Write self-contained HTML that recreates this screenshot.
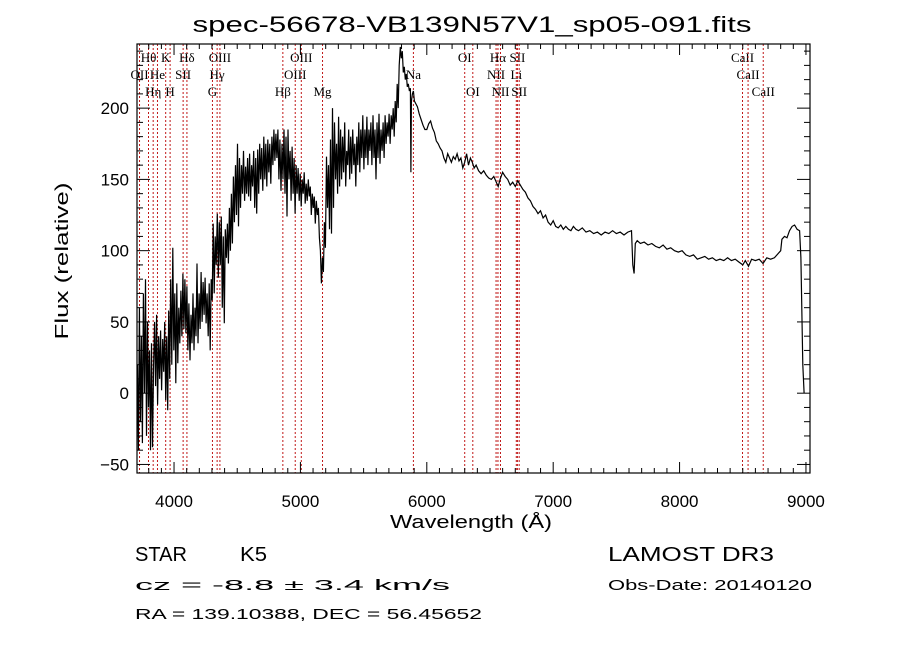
<!DOCTYPE html>
<html><head><meta charset="utf-8"><style>
html,body{margin:0;padding:0;background:#fff;}
svg{display:block;font-family:"Liberation Sans",sans-serif;}
</style></head><body>
<svg id="chart" width="900" height="649" viewBox="0 0 900 649" xmlns="http://www.w3.org/2000/svg">
<rect width="900" height="649" fill="#fff"/>
<text x="472" y="32" text-anchor="middle" font-size="22" textLength="559" lengthAdjust="spacingAndGlyphs">spec-56678-VB139N57V1_sp05-091.fits</text>
<g id="lines"></g>
<g id="series"></g>
<g id="axes"></g>
<text x="471" y="528" text-anchor="middle" font-size="18" textLength="162" lengthAdjust="spacingAndGlyphs">Wavelength (Å)</text>
<text transform="translate(68,261) rotate(-90)" text-anchor="middle" font-size="18" textLength="157" lengthAdjust="spacingAndGlyphs">Flux (relative)</text>
<text x="135" y="561" font-size="20" textLength="52" lengthAdjust="spacingAndGlyphs">STAR</text>
<text x="240" y="561" font-size="20" textLength="27" lengthAdjust="spacingAndGlyphs">K5</text>
<text x="608" y="561" font-size="20" textLength="166" lengthAdjust="spacingAndGlyphs">LAMOST DR3</text>
<text x="135" y="590" font-size="15" textLength="315" lengthAdjust="spacingAndGlyphs">cz = -8.8 ± 3.4 km/s</text>
<text x="608" y="590" font-size="15" textLength="204" lengthAdjust="spacingAndGlyphs">Obs-Date: 20140120</text>
<text x="135" y="619" font-size="15" textLength="347" lengthAdjust="spacingAndGlyphs">RA = 139.10388, DEC =  56.45652</text>
</svg>
<script>
const wavelengths = [3710,3718,3726,3734,3742,3750,3758,3766,3774,3782,3790,3798,3806,3814,3822,3830,3838,3846,3854,3862,3870,3878,3886,3894,3902,3910,3918,3926,3934,3942,3950,3958,3966,3974,3982,3990,3998,4006,4014,4022,4030,4038,4046,4054,4062,4070,4078,4086,4094,4102,4110,4118,4126,4134,4142,4150,4158,4166,4174,4182,4190,4198,4206,4214,4222,4230,4238,4246,4254,4262,4270,4278,4286,4294,4302,4310,4318,4326,4334,4342,4350,4358,4366,4374,4382,4390,4398,4406,4414,4422,4430,4438,4446,4454,4462,4470,4478,4486,4494,4502,4510,4518,4526,4534,4542,4550,4558,4566,4574,4582,4590,4598,4606,4614,4622,4630,4638,4646,4654,4662,4670,4678,4686,4694,4702,4710,4718,4726,4734,4742,4750,4758,4766,4774,4782,4790,4798,4806,4814,4822,4830,4838,4846,4854,4862,4870,4878,4886,4894,4902,4910,4918,4926,4934,4942,4950,4958,4966,4974,4982,4990,4998,5006,5014,5022,5030,5038,5046,5054,5062,5070,5078,5086,5094,5102,5110,5118,5126,5134,5142,5150,5158,5166,5174,5182,5190,5198,5206,5214,5222,5230,5238,5246,5254,5262,5270,5278,5286,5294,5302,5310,5318,5326,5334,5342,5350,5358,5366,5374,5382,5390,5398,5406,5414,5422,5430,5438,5446,5454,5462,5470,5478,5486,5494,5502,5510,5518,5526,5534,5542,5550,5558,5566,5574,5582,5590,5598,5606,5614,5622,5630,5638,5646,5654,5662,5670,5678,5686,5694,5702,5710,5718,5726,5734,5742,5750,5758,5766,5774,5782,5790,5798,5806,5814,5822,5830,5838,5846,5854,5862,5870,5874,5878,5886,5894,5902,5914,5926,5940,5955,5970,5985,6000,6015,6030,6045,6060,6075,6090,6105,6120,6135,6150,6165,6180,6195,6210,6225,6240,6255,6270,6285,6300,6315,6330,6345,6360,6375,6390,6410,6430,6450,6470,6490,6510,6530,6550,6565,6580,6600,6620,6640,6660,6680,6700,6720,6740,6760,6780,6800,6820,6840,6860,6880,6900,6920,6940,6960,6980,7000,7020,7040,7060,7080,7100,7120,7140,7160,7180,7200,7230,7260,7290,7320,7350,7380,7410,7440,7470,7500,7530,7560,7590,7620,7630,7640,7650,7665,7690,7720,7750,7780,7810,7840,7870,7900,7930,7960,7990,8020,8050,8080,8110,8140,8170,8200,8230,8260,8290,8320,8350,8380,8410,8440,8470,8500,8520,8545,8570,8600,8630,8660,8690,8720,8750,8780,8800,8810,8830,8850,8870,8890,8910,8930,8950,8960,8975,8985];
const fluxValues = [20,-40,60,-20,40,-35,70,0,80,-30,50,-10,30,-40,35,-38,20,50,5,55,-8,40,10,44,2,38,15,50,-5,40,-12,58,10,80,20,102,30,70,7,77,21,60,35,72,40,84,45,80,42,75,30,63,23,55,35,70,30,60,40,91,35,70,45,85,50,78,55,81,49,70,40,77,30,80,65,119,70,110,90,126,81,120,90,124,60,110,49,115,95,119,91,130,100,140,105,152,120,160,125,175,117,165,130,160,140,170,135,159,140,165,138,168,135,160,145,170,130,165,126,171,140,175,150,172,142,180,150,175,145,178,155,175,147,180,160,185,163,182,165,185,150,178,142,175,150,185,140,180,124,185,150,170,135,173,140,165,126,160,140,158,135,154,131,150,140,155,133,147,135,150,138,145,125,140,130,138,119,135,125,130,109,100,77,95,85,120,102,166,130,160,115,178,112,200,130,190,150,175,140,194,145,185,150,180,155,190,145,170,160,185,150,180,154,185,160,175,145,180,160,190,155,185,165,195,157,185,165,194,160,185,170,190,160,195,165,185,150,190,165,196,161,185,170,190,165,195,175,190,180,196,175,195,185,200,180,205,190,217,200,230,243,235,240,225,229,220,224,215,217,212,214,155,205,210,212,205,203,201,196,192,188,185,185,189,191,186,183,177,175,172,170,165,162,168,165,162,166,164,168,163,165,158,162,168,160,165,162,158,160,156,154,156,153,151,150,152,148,145,150,155,152,150,146,148,145,149,146,143,141,137,135,131,129,126,128,123,125,120,118,121,117,116,118,115,117,115,114,117,115,114,116,113,114,112,113,111,113,112,114,112,113,111,113,114,90,84,105,107,105,106,104,105,103,102,104,101,102,100,99,100,97,96,97,94,95,96,94,95,93,94,93,95,93,94,92,90,93,89,94,93,94,91,95,94,95,98,100,108,110,109,114,117,118,115,114,95,20,0];
const xTickLabels = [4000,5000,6000,7000,8000,9000];
const yTickLabels = [-50,0,50,100,150,200];
const lineWaves = [3727,3798,3835,3869,3934,3969,4072,4102,4304,4341,4363,4861,4959,5007,5175,5894,6300,6364,6548,6563,6583,6708,6717,6731,8498,8542,8662];
const lineNames = ["OII","Hθ","Hη","He","K","H","SII","Hδ","G","Hγ","OIII","Hβ","OIII","OIII","Mg","Na","OI","OI","NII","Hα","NII","Li","SII","SII","CaII","CaII","CaII"];
const lineRows = [1,0,2,1,0,2,1,0,2,1,0,2,1,0,2,1,0,2,1,0,2,1,0,2,0,1,2];

const NS="http://www.w3.org/2000/svg";
const L=137,R=810,T=44,B=473;
const X0=3707,X1=9032,Y0=-56,Y1=245;
function xs(w){return L+(w-X0)/(X1-X0)*(R-L);}
function ys(f){return B-(f-Y0)/(Y1-Y0)*(B-T);}
function mk(tag,attrs,parent){const e=document.createElementNS(NS,tag);for(const k in attrs)e.setAttribute(k,attrs[k]);parent.appendChild(e);return e;}

const lg=document.getElementById('lines');
const rowY=[62,79,96];
lineWaves.forEach((w,i)=>{
  const x=xs(w);
  const ln=mk('line',{x1:x,x2:x,y1:T,y2:B,stroke:'#c01818','stroke-width':1,'stroke-dasharray':'2,2'},lg);
  
  
  const t=mk('text',{x:x,y:rowY[lineRows[i]],'text-anchor':'middle','font-size':13,'font-family':'Liberation Serif, serif'},lg);
  t.textContent=lineNames[i];
  
  
});

const sg=document.getElementById('series');
const pts=wavelengths.map((w,i)=>xs(w).toFixed(1)+','+Math.max(T,Math.min(B,ys(fluxValues[i]))).toFixed(1)).join(' ');
const pl=mk('polyline',{points:pts,fill:'none',stroke:'#000','stroke-width':1.2,'stroke-linejoin':'miter'},sg);



const ag=document.getElementById('axes');
const frame=mk('rect',{x:L,y:T,width:R-L,height:B-T,fill:'none',stroke:'#000','stroke-width':1.2},ag);


for(let w=3800;w<=9000;w+=100){
  const x=xs(w);const major=w%1000===0;const len=major?11:5;
  mk('line',{x1:x,x2:x,y1:B,y2:B-len,stroke:'#000'},ag);
  mk('line',{x1:x,x2:x,y1:T,y2:T+len,stroke:'#000'},ag);
}
xTickLabels.forEach(v=>{
  const t=mk('text',{x:xs(v),y:507,'text-anchor':'middle','font-size':17},ag);
  t.textContent=v;
  
  
});
for(let f=-50;f<=240;f+=10){
  const y=ys(f);const major=f%50===0;const len=major?13:6;
  mk('line',{x1:L,x2:L+len,y1:y,y2:y,stroke:'#000'},ag);
  mk('line',{x1:R,x2:R-len,y1:y,y2:y,stroke:'#000'},ag);
}
yTickLabels.forEach(v=>{
  const t=mk('text',{x:129,y:ys(v)+6,'text-anchor':'end','font-size':17},ag);
  t.textContent=v<0?'−'+Math.abs(v):v;
  
  
});
</script>
</body></html>
